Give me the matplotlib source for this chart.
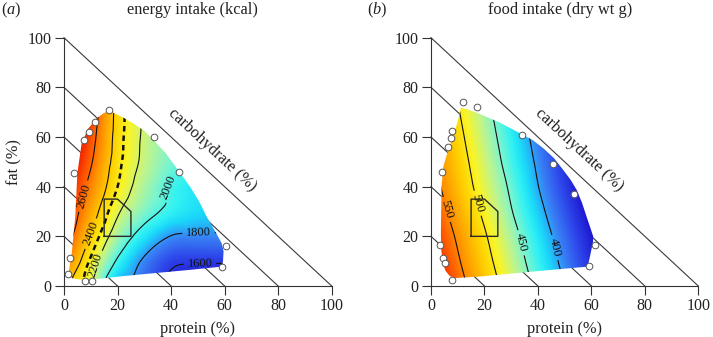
import numpy as np
import matplotlib
matplotlib.use('Agg')
import matplotlib.pyplot as plt
import matplotlib.tri as mtri
from matplotlib.colors import LinearSegmentedColormap, Normalize
from matplotlib.patches import Polygon

plt.rcParams['font.family'] = ['Liberation Serif', 'DejaVu Serif']
plt.rcParams['mathtext.fontset'] = 'custom'
plt.rcParams['mathtext.it'] = 'Liberation Serif:italic'
plt.rcParams['mathtext.rm'] = 'Liberation Serif'

# ---------------- data ----------------
grid_protein = [0, 10, 20, 30, 40, 50, 60, 70]
grid_fat = [0, 10, 20, 30, 40, 50, 60, 70, 80]

energy_kcal = [
    [2450, 2210, 1830, 1700, 1550, 1500, 1490, 1480],
    [2600, 2280, 1980, 1775, 1635, 1615, 1612, 1610],
    [2700, 2390, 2120, 1925, 1795, 1780, 1780, 1780],
    [2750, 2480, 2220, 2065, 1960, 1900, 1870, 1850],
    [2800, 2555, 2300, 2130, 1990, 1920, 1880, 1860],
    [2840, 2615, 2335, 2170, 2050, 1960, 1910, 1880],
    [2880, 2655, 2350, 2180, 2080, 1990, 1940, 1900],
    [2920, 2690, 2360, 2190, 2100, 2020, 1960, 1920],
    [2960, 2720, 2370, 2200, 2110, 2030, 1970, 1930],
]

food_g = [
    [605, 564, 523, 482, 441, 400, 359, 318],
    [595, 554, 513, 472, 431, 390, 349, 308],
    [586, 545, 504, 463, 422, 381, 340, 299],
    [575, 534, 493, 452, 411, 370, 329, 288],
    [565, 524, 483, 444, 401, 360, 319, 278],
    [558, 517, 476, 435, 394, 353, 312, 271],
    [551, 510, 469, 428, 387, 346, 305, 264],
    [544, 503, 462, 421, 380, 339, 298, 257],
    [537, 496, 455, 414, 373, 332, 291, 250],
]

energy_levels = [1600, 1800, 2000, 2200, 2400, 2600]
energy_dashed_level = [2300]
food_levels = [400, 450, 500, 550]

energy_label_protein = [50.8, 50.2, 39.0, 10.2, 9.7, 7.8]
energy_label_fat = [8.9, 22.0, 40.0, 9.0, 21.2, 36.0]
food_label_protein = [45.6, 33.3, 17.3, 5.2]
food_label_fat = [15.3, 17.3, 33.3, 30.6]

# surface outlines
energy_hull_protein = [16.8, 21.5, 25.9, 30.0, 33.4, 38.0, 42.1, 47.1, 50.5, 53.3, 56.5, 58.9,
                       59.6, 59.4, 58.9, 48.0, 35.0, 22.2, 14.0, 10.3, 6.0, 2.8, 1.6, 2.2,
                       2.9, 3.5, 4.2, 5.0, 6.6, 9.1, 12.2, 14.8]
energy_hull_fat = [70.6, 68.2, 65.5, 62.5, 58.8, 53.5, 47.4, 40.0, 34.0, 27.9, 22.0, 17.2,
                   14.0, 10.0, 7.8, 6.6, 5.3, 4.0, 3.0, 2.5, 2.6, 3.2, 4.5, 8.5,
                   13.2, 20.0, 27.9, 45.4, 57.5, 63.5, 67.5, 69.6]
food_hull_protein = [11.2, 13.5, 17.1, 25.8, 33.3, 38.0, 42.0, 46.0, 49.5, 52.2, 54.5, 56.5, 58.2,
                     59.6, 60.7, 60.6, 59.5, 58.6, 45.0, 30.0, 18.0, 9.0, 7.0, 5.5, 4.6,
                     3.9, 3.7, 3.8, 4.0, 4.6, 5.8, 7.1, 8.4, 9.8]
food_hull_fat = [71.8, 71.2, 69.8, 65.8, 61.5, 58.8, 55.5, 51.5, 46.7, 42.8, 38.7, 33.5, 27.9,
                 23.5, 19.9, 17.8, 12.0, 7.8, 6.5, 5.0, 3.8, 3.2, 4.0, 6.0, 8.5,
                 14.0, 20.5, 30.0, 40.7, 48.0, 52.5, 56.8, 60.8, 65.5]

# observed diets (open circles)
energy_pts_protein = [16.8, 11.6, 9.5, 7.5, 33.6, 43.1, 3.7, 2.2, 1.6, 7.8, 10.3, 60.5, 58.9]
energy_pts_fat = [70.9, 66.2, 62.1, 58.8, 59.9, 46.0, 45.4, 11.1, 4.7, 1.9, 1.9, 16.1, 7.8]
food_pts_protein = [12.1, 17.3, 8.0, 7.4, 6.5, 4.0, 34.2, 45.8, 53.5, 61.2, 59.2, 3.4, 4.6, 5.2, 7.7]
food_pts_fat = [74.0, 72.2, 62.6, 59.5, 56.1, 46.0, 60.8, 49.1, 36.9, 16.4, 8.1, 16.5, 11.1, 9.1, 2.4]

# target box
box_protein = [15, 15, 20, 25, 25]
box_fat = [20, 35, 35, 30, 20]

carb_lines = [0, 20, 40, 60, 80]
ticks = [0, 20, 40, 60, 80, 100]

# ---------------- colour map ----------------
cmap = LinearSegmentedColormap.from_list('rb', [
    (0.00, (0.12, 0.10, 0.82)),
    (0.10, (0.18, 0.28, 0.92)),
    (0.20, (0.22, 0.50, 0.96)),
    (0.30, (0.10, 0.85, 0.98)),
    (0.36, (0.20, 0.95, 0.95)),
    (0.44, (0.50, 0.96, 0.80)),
    (0.52, (0.75, 0.96, 0.55)),
    (0.61, (0.98, 0.96, 0.15)),
    (0.70, (1.00, 0.82, 0.00)),
    (0.82, (1.00, 0.58, 0.00)),
    (0.92, (1.00, 0.32, 0.00)),
    (1.00, (0.92, 0.08, 0.00)),
])

TXT = '#222222'
fig = plt.figure(figsize=(7.13, 3.37), dpi=100)
W, H = 713.0, 337.0
ax_a = fig.add_axes([64 / W, 1 - 286 / H, 267.7 / W, 248.3 / H])
ax_b = fig.add_axes([431 / W, 1 - 286 / H, 267.3 / W, 248.3 / H])

Pg, Fg = np.meshgrid(np.array(grid_protein, float), np.array(grid_fat, float))
tri = mtri.Triangulation(Pg.ravel(), Fg.ravel())
xi = np.linspace(0, 70, 351)
yi = np.linspace(0, 80, 401)
Xi, Yi = np.meshgrid(xi, yi)


def panel(ax, Z, levels, vmin, vmax, hullP, hullF, ptsP, ptsF, labP, labF,
          dashed=None):
    Z = np.array(Z, float)
    interp = mtri.CubicTriInterpolator(tri, Z.ravel(), kind='geom')
    Zi = interp(Xi, Yi)
    norm = Normalize(vmin=vmin, vmax=vmax)
    hull = Polygon(np.column_stack([hullP, hullF]), closed=True,
                   transform=ax.transData, facecolor='none', edgecolor='none')
    # carbohydrate iso-lines
    for c in carb_lines:
        ax.plot([0, 100 - c], [100 - c, 0], color='#3a3a3a', lw=0.8,
                zorder=1, clip_on=False)
    im = ax.imshow(Zi, origin='lower', extent=[0, 70, 0, 80], cmap=cmap,
                   norm=norm, aspect='auto', interpolation='bilinear', zorder=2)
    im.set_clip_path(hull)
    cs = ax.contour(Xi, Yi, Zi, levels=levels, colors='#111111',
                    linewidths=0.8, zorder=3)
    cs.set_clip_path(hull)
    ax.clabel(cs, manual=list(zip(labP, labF)), fmt='%d', fontsize=9,
              inline=True, inline_spacing=3)
    if dashed is not None:
        cd = ax.contour(Xi, Yi, Zi, levels=dashed, colors='#111111',
                        linewidths=1.8, linestyles=[(0, (2.2, 1.6))], zorder=3)
        cd.set_clip_path(hull)
    ax.plot(box_protein + [box_protein[0]], box_fat + [box_fat[0]],
            color='#2a2a2a', lw=1.0, zorder=4)
    ax.plot(ptsP, ptsF, 'o', ms=4.8, mfc='white', mec='#555555', mew=0.7,
            zorder=5, clip_on=False)
    ax.set_xlim(0, 100)
    ax.set_ylim(0, 100)
    for s in ['top', 'right']:
        ax.spines[s].set_visible(False)
    for s in ['left', 'bottom']:
        ax.spines[s].set_bounds(0, 100)
        ax.spines[s].set_color('#333333')
        ax.spines[s].set_linewidth(0.8)
    ax.set_xticks(ticks)
    ax.set_yticks(ticks)
    ax.tick_params(direction='out', length=6.5, width=0.8, color='#333333',
                   labelsize=11.5, labelcolor=TXT)
    ax.tick_params(axis='x', pad=2)
    ax.tick_params(axis='y', pad=2.5)
    ax.set_facecolor('none')
    ax.text(55.3, 54.7, 'carbohydrate (%)', rotation=-42.85,
            rotation_mode='anchor', ha='center', va='center', fontsize=11.8,
            color=TXT)
    ax.set_xlabel('protein (%)', fontsize=11.8, labelpad=5, color=TXT)


panel(ax_a, energy_kcal, energy_levels, 1520, 2750,
      energy_hull_protein, energy_hull_fat, energy_pts_protein, energy_pts_fat,
      energy_label_protein, energy_label_fat, dashed=energy_dashed_level)
panel(ax_b, food_g, food_levels, 340, 590,
      food_hull_protein, food_hull_fat, food_pts_protein, food_pts_fat,
      food_label_protein, food_label_fat)

ax_a.set_ylabel('fat (%)', fontsize=11.8, labelpad=4, color=TXT)

fig.text(192.5 / W, 1 - 10.5 / H, 'energy intake (kcal)', ha='center',
         va='center', fontsize=11.8, color=TXT)
fig.text(560 / W, 1 - 10.5 / H, 'food intake (dry wt g)', ha='center',
         va='center', fontsize=11.8, color=TXT)
fig.text(1 / W, 1 - 10.5 / H, r'($\mathit{a}$)', ha='left', va='center',
         fontsize=11.8, color=TXT)
fig.text(367 / W, 1 - 10.5 / H, r'($\mathit{b}$)', ha='left', va='center',
         fontsize=11.8, color=TXT)

fig.savefig('out.png', dpi=100)
